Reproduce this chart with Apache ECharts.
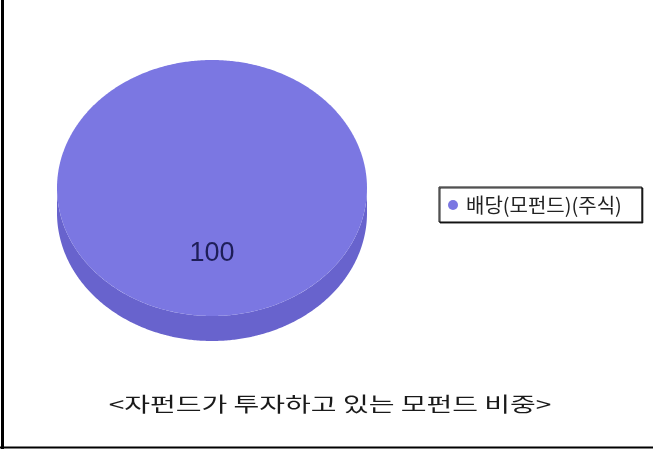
<!DOCTYPE html>
<html><head><meta charset="utf-8">
<script src="https://cdn.jsdelivr.net/npm/echarts@6/dist/echarts.min.js"></script>
<style>html,body{margin:0;padding:0;background:#fff}#c{width:653px;height:450px}</style>
</head><body><div id="c"></div>
<script>
// ---- data ----
const categories = ['배당(모펀드)(주식)'];
const values = [100];
const titleText = '<자펀드가 투자하고 있는 모펀드 비중>';
const topColors = ['#7b77e2'];
const sideColors = ['#6863cd'];

// ---- layout ----
const PIE = {cx: 212, cy: 188, rx: 155, ry: 128, depth: 25};
const total = values.reduce((a, b) => a + b, 0);
const starts = [];
values.reduce((acc, v, i) => { starts[i] = acc; return acc + v; }, 0);

function arcPts(a0, a1, dy) {
  const pts = [];
  const n = Math.max(2, Math.ceil(Math.abs(a1 - a0) / 0.01));
  for (let i = 0; i <= n; i++) {
    const a = a0 + (a1 - a0) * i / n;
    pts.push([PIE.cx + PIE.rx * Math.cos(a), PIE.cy + dy + PIE.ry * Math.sin(a)]);
  }
  return pts;
}

const chart = echarts.init(document.getElementById('c'), null, {renderer: 'canvas'});

function renderItem(params, api) {
  const i = params.dataIndex;
  const v = api.value(0);
  const a0 = -Math.PI / 2 + 2 * Math.PI * starts[i] / total;
  const a1 = a0 + 2 * Math.PI * v / total;
  const children = [];
  // front side wall (visible where sin(angle) > 0)
  for (let k = -1; k <= 1; k++) {
    const s = Math.max(a0, 2 * Math.PI * k);
    const e = Math.min(a1, 2 * Math.PI * k + Math.PI);
    if (e > s) {
      const pts = arcPts(s, e, 0).concat(arcPts(e, s, PIE.depth));
      children.push({type: 'polygon', shape: {points: pts}, style: {fill: sideColors[i % sideColors.length]}});
    }
  }
  // top face
  const full = Math.abs(v / total - 1) < 1e-9;
  const topPts = full ? arcPts(a0, a1, 0) : [[PIE.cx, PIE.cy]].concat(arcPts(a0, a1, 0));
  children.push({type: 'polygon', shape: {points: topPts}, style: {fill: topColors[i % topColors.length]}});
  // value label
  const mid = (a0 + a1) / 2;
  children.push({
    type: 'text',
    style: {
      text: String(v),
      x: PIE.cx + 0.5 * PIE.rx * Math.cos(mid),
      y: PIE.cy + 0.5 * PIE.ry * Math.sin(mid) + 2,
      fill: '#1e1e58',
      font: '27px "Liberation Sans Narrow", "Liberation Sans", Arial, sans-serif',
      align: 'center',
      verticalAlign: 'middle'
    }
  });
  return {type: 'group', children: children};
}

chart.setOption({
  animation: false,
  backgroundColor: '#ffffff',
  legend: {
    data: categories,
    left: 439,
    top: 187,
    orient: 'vertical',
    icon: 'circle',
    itemWidth: 16,
    itemHeight: 10,
    padding: [8, 20, 7, 9],
    borderColor: '#111',
    borderWidth: 1,
    backgroundColor: '#fff',
    shadowColor: 'rgba(0,0,0,0.85)',
    shadowOffsetX: 1,
    shadowOffsetY: 1,
    shadowBlur: 0,
    textStyle: {fontSize: 20, color: '#222', fontFamily: '"Noto Sans CJK KR", sans-serif'}
  },
  graphic: [
    {type: 'line', shape: {x1: 2.5, y1: 0, x2: 2.5, y2: 449}, style: {stroke: '#000', lineWidth: 3}},
    {type: 'line', shape: {x1: 0, y1: 447.5, x2: 653, y2: 447.5}, style: {stroke: '#000', lineWidth: 2}},
    {
      type: 'text', x: 330, y: 404, scaleX: 1.4,
      style: {
        text: titleText, fill: '#1a1a1a',
        font: '20px "Noto Sans CJK KR", sans-serif',
        align: 'center', verticalAlign: 'middle'
      }
    }
  ],
  series: [{
    type: 'custom',
    name: categories[0],
    coordinateSystem: 'none',
    itemStyle: {color: topColors[0]},
    renderItem: renderItem,
    data: values.map((v, i) => ({name: categories[i], value: [v]}))
  }]
});
</script>
</body></html>
